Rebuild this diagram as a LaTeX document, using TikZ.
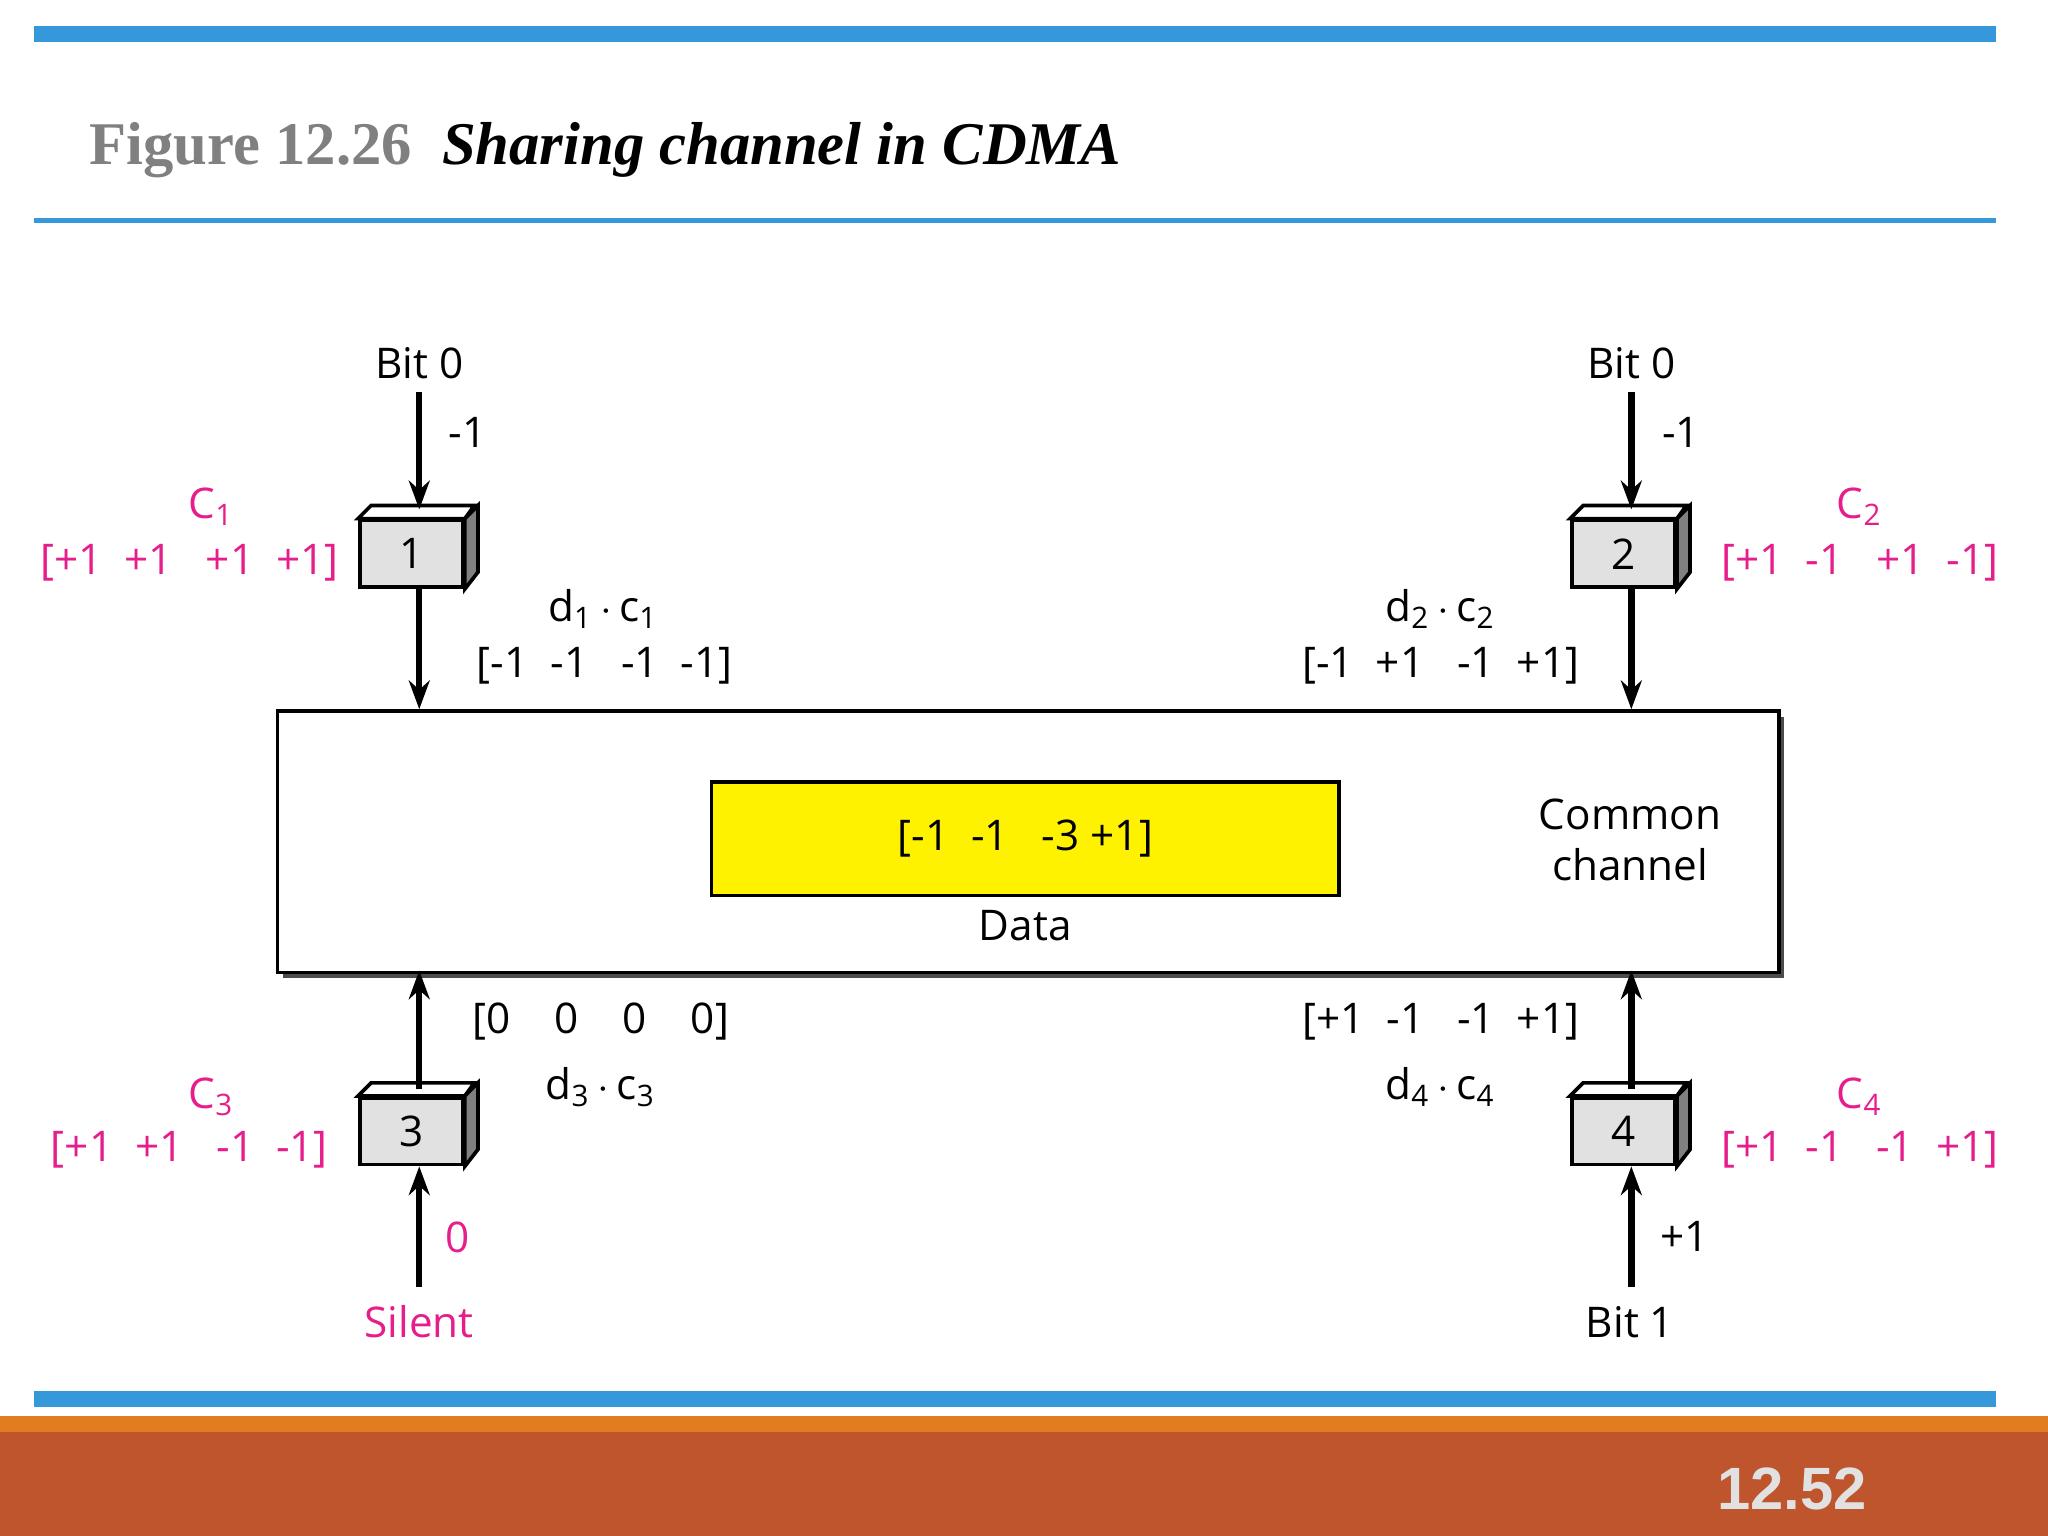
\documentclass[tikz,border=0pt]{standalone}
\usepackage{fontspec}
\setmainfont{Open Sans}
\newfontfamily\titlefont{Liberation Serif}
\newfontfamily\numfont{Liberation Sans}
\usetikzlibrary{arrows.meta,positioning}

\definecolor{barblue}{RGB}{52,152,219}
\definecolor{codepink}{RGB}{230,30,140}
\definecolor{rust}{RGB}{190,85,45}
\definecolor{stripe}{RGB}{225,125,30}
\definecolor{boxgray}{RGB}{225,225,225}

\newcommand{\sub}[1]{\textsubscript{#1}}
\newcommand{\dotp}{\,$\cdot$\,}

\tikzset{
  lbl/.style={font=\fontsize{9.2}{11}\selectfont, inner sep=1pt},
  code/.style={lbl, text=codepink},
  station/.style={draw, thick, fill=boxgray, minimum width=0.79cm, minimum height=0.51cm, inner sep=0pt, font=\fontsize{9.2}{11}\selectfont},
  flow/.style={-{Stealth[length=0.22cm,width=0.16cm]}, line width=1.4pt}
}

% 3-D top and side of a station
\newcommand{\cubeface}[1]{%
  \draw[thick, fill=white] (#1.north west) -- ++(10,-10) -- ++(79,0) -- (#1.north east) -- cycle;
  \draw[thick, fill=gray] (#1.north east) -- ++(10,-10) -- ++(0,51) -- (#1.south east) -- cycle;}

\begin{document}
\begin{tikzpicture}[x=0.01cm, y=-0.01cm]

\useasboundingbox (0,0) rectangle (1568,1176);

% frame of the slide
\fill[barblue] (26,20) rectangle (1528,32);
\fill[barblue] (26,167) rectangle (1528,171);
\fill[barblue] (26,1065) rectangle (1528,1077);
\fill[stripe] (0,1084) rectangle (1568,1096);
\fill[rust] (0,1096) rectangle (1568,1176);
\node[anchor=base west, inner sep=0pt] (title) at (68,126) {\titlefont\fontsize{13.2}{16}\selectfont\bfseries\textcolor{gray}{Figure 12.26}\hspace{0.5em}\textcolor{black}{\itshape Sharing channel in CDMA}};
\node[text=boxgray, inner sep=0pt] (page) at (1372,1140) {\numfont\bfseries\fontsize{13}{16}\selectfont 12.52};

% common channel
\fill[black!70] (217,549) rectangle (1366,749);
\node[draw, thick, fill=white, minimum width=11.49cm, minimum height=2cm, anchor=north west] (chan) at (211,543) {};
\node[draw, thick, fill=yellow, minimum width=4.8cm, minimum height=0.87cm] (data) at (785,642) {};
\node[lbl] (sum) at (data) {[-1\ \ -1\ \ \ -3\ +1]};
\node[lbl] (datalbl) at (785,709) {Data};
\node[lbl, align=center] (chanlbl) at (1248,643) {Common\\channel};

% stations
\node[station] (s1) at (315,424) {1};
\node[station] (s2) at (1243,424) {2};
\node[station] (s3) at (315,866) {3};
\node[station] (s4) at (1243,866) {4};
\cubeface{s1}\cubeface{s2}\cubeface{s3}\cubeface{s4}

% inputs
\node[lbl] (b1) at (321,278) {Bit 0};
\node[lbl] (b2) at (1249,278) {Bit 0};
\node[lbl, text=codepink] (b3) at (321,1012) {Silent};
\node[lbl] (b4) at (1248,1012) {Bit 1};
\coordinate (t1) at (321,300);  \coordinate (t2) at (1249,300);
\coordinate (t3) at (321,985);  \coordinate (t4) at (1249,985);
\coordinate (i1) at (321,390);  \coordinate (i2) at (1249,390);
\coordinate (i3) at (321,893);  \coordinate (i4) at (1249,893);
\coordinate (o1) at (321,450);  \coordinate (o2) at (1249,450);
\coordinate (o3) at (321,834);  \coordinate (o4) at (1249,834);
\coordinate (e1) at (321,543);  \coordinate (e2) at (1249,543);
\coordinate (e3) at (321,743);  \coordinate (e4) at (1249,743);
\foreach \k in {1,2,3,4} {
  \draw[flow] (t\k) -- (i\k);
  \draw[flow] (o\k) -- (e\k);
}
\node[lbl] (v1) at (358,331) {-1};
\node[lbl] (v2) at (1287,331) {-1};
\node[code] (v3) at (350,947) {0};
\node[lbl] (v4) at (1290,947) {+1};

% chip codes
\node[code] (c1) at (162,388) {C\sub{1}};
\node[code] (k1) at (145,431) {[+1\ \ +1\ \ \ +1\ \ +1]};
\node[code] (c2) at (1424,388) {C\sub{2}};
\node[code] (k2) at (1424,431) {[+1\ \ -1\ \ \ +1\ \ -1]};
\node[code] (c3) at (162,840) {C\sub{3}};
\node[code] (k3) at (145,880) {[+1\ \ +1\ \ \ -1\ \ -1]};
\node[code] (c4) at (1424,840) {C\sub{4}};
\node[code] (k4) at (1424,880) {[+1\ \ -1\ \ \ -1\ \ +1]};

% products
\node[lbl] (p1) at (462,466) {d\sub{1}\dotp c\sub{1}};
\node[lbl] (q1) at (463,510) {[-1\ \ -1\ \ \ -1\ \ -1]};
\node[lbl] (p2) at (1103,466) {d\sub{2}\dotp c\sub{2}};
\node[lbl] (q2) at (1103,510) {[-1\ \ +1\ \ \ -1\ \ +1]};
\node[lbl] (q3) at (460,782) {[0\ \ \ \ 0\ \ \ \ 0\ \ \ \ 0]};
\node[lbl] (p3) at (460,832) {d\sub{3}\dotp c\sub{3}};
\node[lbl] (q4) at (1103,782) {[+1\ \ -1\ \ \ -1\ \ +1]};
\node[lbl] (p4) at (1103,832) {d\sub{4}\dotp c\sub{4}};

\end{tikzpicture}
\end{document}
